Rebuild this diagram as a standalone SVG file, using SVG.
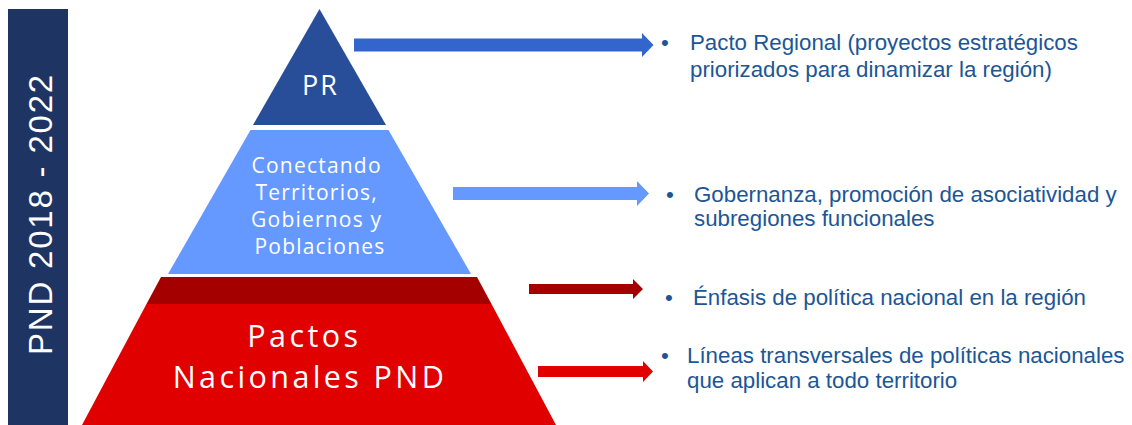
<svg xmlns="http://www.w3.org/2000/svg" width="1132" height="425" viewBox="0 0 1132 425">
<style>
.pyr{font-family:"Open Sans","Noto Sans",sans-serif;fill:#ffffff;text-anchor:middle}
.desc{font-family:"Liberation Sans",Arial,sans-serif;font-size:22.3px;fill:#1c5696}
.side{font-family:"Liberation Sans",Arial,sans-serif;font-size:33px;fill:#ffffff;letter-spacing:1.8px;text-anchor:middle}
</style>
<rect width="1132" height="425" fill="#ffffff"/>
<g id="side-bar">
<rect x="8" y="9" width="60" height="416" fill="#1e3463"/>
<text class="side" transform="translate(52,214) rotate(-90)">PND 2018 - 2022</text>
</g>
<g id="node-pr">
<polygon points="319.5,9 253,125 386,125" fill="#284e9a"/>
<text class="pyr" x="320.5" y="95" font-size="27" letter-spacing="2">PR</text>
</g>
<g id="node-conectando">
<polygon points="250.5,130 388.5,130 471,274 168,274" fill="#6699ff"/>
<text class="pyr" font-size="21" letter-spacing="1.2">
<tspan x="320" y="173">Conectando</tspan>
<tspan x="320" y="200">Territorios,</tspan>
<tspan x="320" y="227">Gobiernos y</tspan>
<tspan x="320" y="254">Poblaciones</tspan>
</text>
</g>
<g id="node-enfasis">
<polygon points="161,277 477,277 491.5,304 146.5,304" fill="#a50000"/>
</g>
<g id="node-pactos">
<polygon points="146.5,304 491.5,304 556,425 82,425" fill="#e00000"/>
<text class="pyr" font-size="30.5" letter-spacing="3.4">
<tspan x="310" y="347">Pactos</tspan>
<tspan x="310" y="388">Nacionales PND</tspan>
</text>
</g>
<g id="connectors">
<polygon points="354,38.5 642,38.5 642,33 653.5,45 642,57 642,51.5 354,51.5" fill="#3366cc"/>
<polygon points="453,187 637,187 637,181 649,193.5 637,206 637,200 453,200" fill="#6699ff"/>
<polygon points="529,284 633,284 633,279 643,289 633,299 633,294 529,294" fill="#a50000"/>
<polygon points="538,366 643,366 643,361 653,371.5 643,382 643,377 538,377" fill="#e00000"/>
</g>
<g id="text-pacto-regional">
<text class="desc" x="661" y="50">•</text>
<text class="desc"><tspan x="690" y="50">Pacto Regional (proyectos estratégicos</tspan><tspan x="690" y="77">priorizados para dinamizar la región)</tspan></text>
</g>
<g id="text-gobernanza">
<text class="desc" x="666" y="202">•</text>
<text class="desc"><tspan x="694" y="202">Gobernanza, promoción de asociatividad y</tspan><tspan x="694" y="226">subregiones funcionales</tspan></text>
</g>
<g id="text-enfasis">
<text class="desc" x="665" y="305">•</text>
<text class="desc" x="693" y="305">Énfasis de política nacional en la región</text>
</g>
<g id="text-lineas">
<text class="desc" x="661" y="363">•</text>
<text class="desc"><tspan x="687" y="363">Líneas transversales de políticas nacionales</tspan><tspan x="687" y="388">que aplican a todo territorio</tspan></text>
</g>
</svg>
